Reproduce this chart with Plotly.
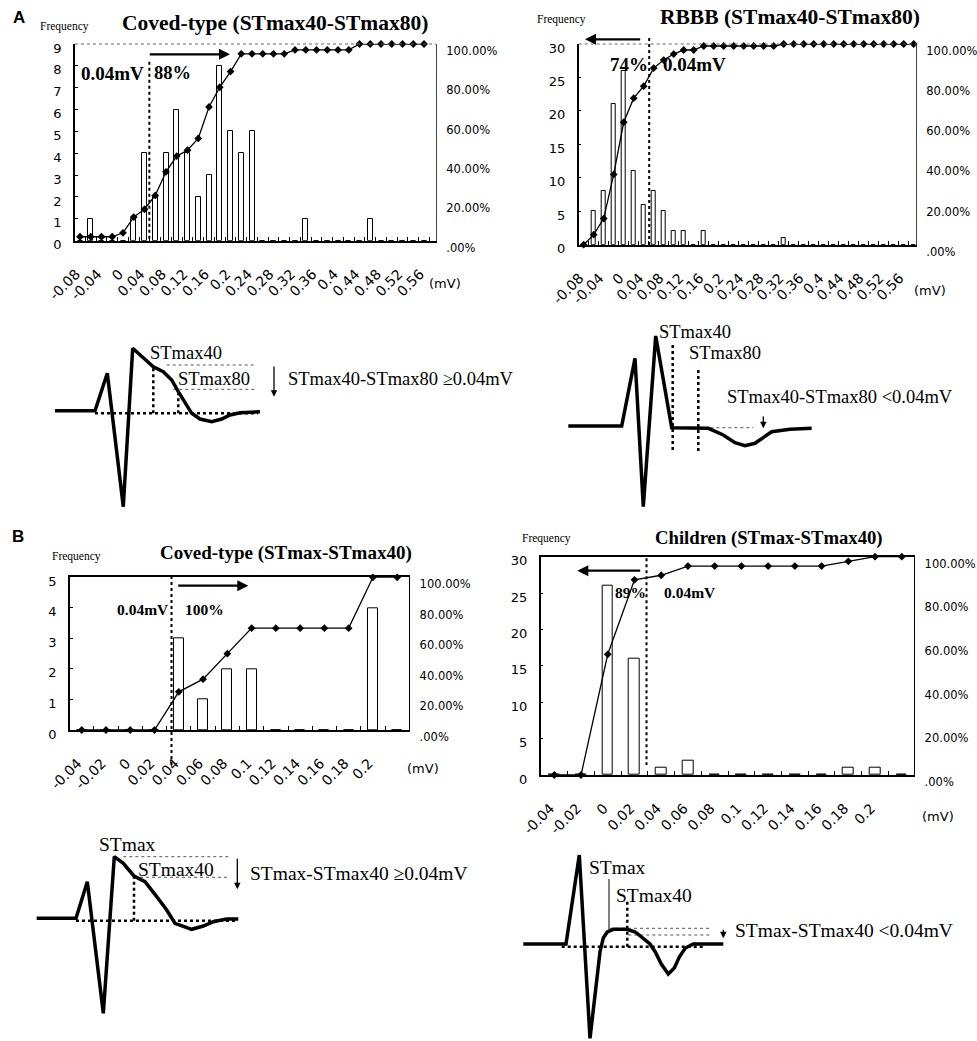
import plotly.graph_objects as go

W, H = 977, 1041
SERIF = "Liberation Serif, Times New Roman, serif"
SANS = "DejaVu Sans, Liberation Sans, sans-serif"

# ---------------- data ----------------
bins_a1 = [-0.08, -0.06, -0.04, -0.02, 0.0, 0.02, 0.04, 0.06, 0.08, 0.10, 0.12, 0.14, 0.16, 0.18, 0.20, 0.22,
           0.24, 0.26, 0.28, 0.30, 0.32, 0.34, 0.36, 0.38, 0.40, 0.42, 0.44, 0.46, 0.48, 0.50, 0.52, 0.54, 0.56]
freq_a1 = [0, 1, 0, 0, 0, 1, 4, 2, 4, 6, 4, 2, 3, 8, 5, 4, 5, 0, 0, 0, 0, 1, 0, 0, 0, 0, 0, 1, 0, 0, 0, 0, 0]
cum_a1 = [2, 2, 2, 2, 4, 12, 16, 23, 35, 43, 46, 52, 68, 78, 86, 95, 95, 95, 95, 95, 97, 97, 97, 97, 97, 97,
          100, 100, 100, 100, 100, 100, 100]

bins_a2 = [-0.08, -0.06, -0.04, -0.02, 0.0, 0.02, 0.04, 0.06, 0.08, 0.10, 0.12, 0.14, 0.16, 0.18, 0.20, 0.22,
           0.24, 0.26, 0.28, 0.30, 0.32, 0.34, 0.36, 0.38, 0.40, 0.42, 0.44, 0.46, 0.48, 0.50, 0.52, 0.54, 0.56, 0.58]
freq_a2 = [0, 5, 8, 21, 26, 11, 6, 8, 5, 2, 2, 0, 2, 0, 0, 0, 0, 0, 0, 0, 1, 0, 0, 0, 0, 0, 0, 0, 0, 0, 0, 0, 0, 0]
cum_a2 = [0, 5, 13, 35, 61, 73, 79, 88, 92, 95, 97, 97, 99, 99, 99, 99, 99, 99, 99, 99,
          100, 100, 100, 100, 100, 100, 100, 100, 100, 100, 100, 100, 100, 100]

bins_b1 = [-0.04, -0.02, 0.0, 0.02, 0.04, 0.06, 0.08, 0.10, 0.12, 0.14, 0.16, 0.18, 0.20, 0.22]
freq_b1 = [0, 0, 0, 0, 3, 1, 2, 2, 0, 0, 0, 0, 4, 0]
cum_b1 = [0, 0, 0, 0, 25, 33.3, 50, 66.7, 66.7, 66.7, 66.7, 66.7, 100, 100]

bins_b2 = [-0.04, -0.02, 0.0, 0.02, 0.04, 0.06, 0.08, 0.10, 0.12, 0.14, 0.16, 0.18, 0.20, 0.22]
freq_b2 = [0, 0, 26, 16, 1, 2, 0, 0, 0, 0, 0, 1, 1, 0]
cum_b2 = [0, 0, 55.3, 89.4, 91.5, 95.7, 95.7, 95.7, 95.7, 95.7, 95.7, 97.9, 100, 100]

xticks_a = [-0.08, -0.04, 0.0, 0.04, 0.08, 0.12, 0.16, 0.20, 0.24, 0.28, 0.32, 0.36, 0.40, 0.44, 0.48, 0.52, 0.56]
xtext_a = ["-0.08", "-0.04", "0", "0.04", "0.08", "0.12", "0.16", "0.2", "0.24", "0.28", "0.32", "0.36",
           "0.4", "0.44", "0.48", "0.52", "0.56"]
xticks_b = [-0.04, -0.02, 0.0, 0.02, 0.04, 0.06, 0.08, 0.10, 0.12, 0.14, 0.16, 0.18, 0.20]
xtext_b = ["-0.04", "-0.02", "0", "0.02", "0.04", "0.06", "0.08", "0.1", "0.12", "0.14", "0.16", "0.18", "0.2"]
pct_ticks = [0, 20, 40, 60, 80, 100]
pct_text = [".00%", "20.00%", "40.00%", "60.00%", "80.00%", "100.00%"]

titles = ["Coved-type (STmax40-STmax80)", "RBBB (STmax40-STmax80)",
          "Coved-type (STmax-STmax40)", "Children (STmax-STmax40)"]
threshold_x = [0.049, 0.051, 0.034, 0.029]

# ECG schematic waveforms (local time units, amplitude relative to baseline)
ecg1_t = [0, 40, 52.3, 68.3, 77.7, 88.3, 98.3, 108.3, 116.7, 123.3, 130, 136.7, 145, 156.7, 166.7, 175, 185, 205]
ecg1_v = [0, 0, 37.4, -96, 62.4, 53, 44, 39, 30.7, 19, 7.4, -2.6, -8.3, -11, -8.3, -4.3, -2, -1]
ecg2_t = [0, 53.4, 66.7, 75, 87.4, 103.4, 140, 155, 166.7, 176.7, 186.7, 195, 203.4, 221.7, 243.4]
ecg2_v = [1, 1, 68.7, -79.7, 91, -0.7, -1.3, -8, -15.7, -18.7, -16.3, -10.3, -4.7, -2.3, -1.3]
ecg3_t = [0, 39.3, 50.6, 66.6, 77.6, 86.6, 97.3, 108.3, 120, 130, 138.3, 155, 166.6, 176.6, 190, 201.6]
ecg3_v = [0, 0, 36.6, -95, 61.6, 55, 42.3, 36.6, 21.6, 8.3, -5, -11, -7.7, -3.4, -0.7, -0.7]
ecg4_t = [0, 42.7, 56, 66.7, 73, 76.7, 80, 84, 90, 103.4, 112, 120, 126.7, 132, 138, 145, 151, 156, 162, 170, 200]
ecg4_v = [0, 0, 89, -94.3, -40, -7.7, 6, 12, 14.7, 14.7, 12, 6, 0, -8, -20, -30, -24, -13, -4, 0, 0]

# ---------------- figure ----------------
fig = go.Figure()
layout = dict(template="none", width=W, height=H, margin=dict(l=0, r=0, t=0, b=0, pad=0, autoexpand=False),
              paper_bgcolor="white", plot_bgcolor="rgba(0,0,0,0)", showlegend=False, bargap=0)
annotations = []
shapes = []


def px(x):
    return x / W


def py(y):
    return 1 - y / H


def text_ann(text, x, y, size, family=SERIF, bold=False, xanchor="left", xref="paper", yref="paper"):
    if bold:
        text = "<b>" + text + "</b>"
    if xref == "paper":
        x, y = px(x), py(y)
    annotations.append(dict(text=text, x=x, y=y, xref=xref, yref=yref, xanchor=xanchor, yanchor="middle",
                            showarrow=False, font=dict(family=family, size=size, color="black")))


panels = [
    dict(bins=bins_a1, freq=freq_a1, cum=cum_a1, box=(75, 44, 436, 240.7), xr=[-0.0893, 0.5823],
         ymax=9, ydt=1, xt=xticks_a, xtx=xtext_a, bw=0.0093, frame="A", thr_y=(61.7, 241.7)),
    dict(bins=bins_a2, freq=freq_a2, cum=cum_a2, box=(578.7, 44, 916, 244.7), xr=[-0.09, 0.5846],
         ymax=30, ydt=5, xt=xticks_a, xtx=xtext_a, bw=0.009, frame="A", thr_y=(38, 246.3)),
    dict(bins=bins_b1, freq=freq_b1, cum=cum_b1, box=(70, 577.3, 409.3, 730), xr=[-0.04964, 0.22996],
         ymax=5, ydt=1, xt=xticks_b, xtx=xtext_b, bw=0.0082, frame="B", thr_y=(576, 768)),
    dict(bins=bins_b2, freq=freq_b2, cum=cum_b2, box=(540.7, 556.7, 914.3, 775), xr=[-0.05018, 0.22936],
         ymax=30, ydt=5, xt=xticks_b, xtx=xtext_b, bw=0.008, frame="B", thr_y=(558.3, 765)),
]

for i, p in enumerate(panels):
    n = i + 1
    xid = "x" if n == 1 else f"x{n}"
    ya_n, yb_n = 2 * n - 1, 2 * n
    yid = "y" if ya_n == 1 else f"y{ya_n}"
    yid2 = f"y{yb_n}"
    xkey = "xaxis" if n == 1 else f"xaxis{n}"
    ykey = "yaxis" if ya_n == 1 else f"yaxis{ya_n}"
    ykey2 = f"yaxis{yb_n}"
    x0, y0, x1, y1 = p["box"]
    fig.add_trace(go.Bar(x=p["bins"], y=p["freq"], xaxis=xid, yaxis=yid, width=p["bw"],
                         marker=dict(color="white", line=dict(color="black", width=1))))
    fig.add_trace(go.Scatter(x=p["bins"], y=p["cum"], xaxis=xid, yaxis=yid2, mode="lines+markers",
                             cliponaxis=False,
                             line=dict(color="black", width=1.3),
                             marker=dict(symbol="diamond", size=6, color="black")))
    layout[xkey] = dict(domain=[px(x0), px(x1)], range=p["xr"], anchor=yid, showline=True, linecolor="black",
                        linewidth=1.5, mirror=(p["frame"] == "B"), tickmode="array", tickvals=p["xt"],
                        ticktext=p["xtx"], tickangle=-45, ticks="", showgrid=False, zeroline=False,
                        automargin=False,
                        tickfont=dict(family=SANS, size=14, color="black"), ticklabelstandoff=18,
                        ticklabelshift=-4,
                        minor=dict(tickmode="linear", tick0=p["bins"][0] - 0.01, dtick=0.02, ticks="inside",
                                   ticklen=4, tickcolor="black", showgrid=False))
    layout[ykey] = dict(domain=[py(y1), py(y0)], range=[0, p["ymax"]], anchor=xid, showline=True,
                        linecolor="black", linewidth=1.5, tickmode="linear", tick0=0, dtick=p["ydt"],
                        ticks="inside", ticklen=3, tickcolor="black", showgrid=False, zeroline=False,
                        automargin=False,
                        tickfont=dict(family=SANS, size=13, color="black"), ticklabelstandoff=9,
                        ticklabelshift=4)
    layout[ykey2] = dict(overlaying=yid, side="right", anchor=xid, range=[0, 100], tickmode="array",
                         tickvals=pct_ticks, ticktext=pct_text, showline=True,
                         linecolor="#444" if p["frame"] == "A" else "black", linewidth=1,
                         showgrid=False, zeroline=False, ticks="", automargin=False,
                         tickfont=dict(family=SANS, size=11.5, color="black"), ticklabelstandoff=7,
                         ticklabelshift=7)
    if p["frame"] == "A":
        shapes.append(dict(type="line", xref="paper", yref="paper", x0=px(x0), x1=px(x1), y0=py(y0), y1=py(y0),
                           line=dict(color="#666", width=1, dash="dot")))
    ty0, ty1 = p["thr_y"]
    shapes.append(dict(type="line", xref=xid, yref="paper", x0=threshold_x[i], x1=threshold_x[i],
                       y0=py(ty0), y1=py(ty1), line=dict(color="black", width=2, dash="dot")))

# titles, labels
text_ann(titles[0], 120, 23.3, 21.5, bold=True)
text_ann(titles[1], 658.3, 16.7, 21.5, bold=True)
text_ann(titles[2], 158.3, 552.7, 19, bold=True)
text_ann(titles[3], 653.3, 538.3, 18.7, bold=True)
for (fx, fy) in [(38.3, 26.7), (535, 20), (50, 556), (520, 538.3)]:
    text_ann("Frequency", fx, fy, 11.5)
for (mx, my) in [(426.7, 283.3), (911.7, 290), (405, 768.3), (920, 816.7)]:
    text_ann("(mV)", mx, my, 13, family=SANS)
text_ann("A", 11, 17, 17, family="Liberation Sans, Arial, sans-serif", bold=True)
text_ann("B", 10, 537, 17, family="Liberation Sans, Arial, sans-serif", bold=True)

text_ann("0.04mV", 79, 73.3, 19, bold=True)
text_ann("88%", 151.7, 73.3, 18.5, bold=True)
text_ann("74%", 608.3, 64.3, 19, bold=True)
text_ann("0.04mV", 660.7, 64.3, 19, bold=True)
text_ann("0.04mV", 115, 609.3, 15.5, bold=True)
text_ann("100%", 182.7, 609.3, 15.5, bold=True)
text_ann("89%", 613.3, 592.7, 15.5, bold=True)
text_ann("0.04mV", 661.7, 592.7, 15.5, bold=True)

# chart arrows (tail -> head)
for (tx, ty, hx, hy) in [(148.3, 54.3, 230, 54.3), (641.7, 39.3, 585, 39.3),
                         (176.7, 585.7, 248.3, 585.7), (641.7, 570.7, 577.3, 570.7)]:
    annotations.append(dict(x=px(hx), y=py(hy), xref="paper", yref="paper", ax=tx - hx, ay=ty - hy,
                            showarrow=True, arrowhead=2, arrowsize=1, arrowwidth=2.2, arrowcolor="black",
                            text=""))

# ---------------- ECG schematics ----------------
ecgs = [
    dict(t=ecg1_t, v=ecg1_v, box=(30, 320, 530, 525), origin=(55, 410.7),
         dotted=[([40, 203], [-2.6, -2.6]), ([98.3, 98.3], [-2.6, 44]), ([123.3, 123.3], [-2.6, 18])],
         thin=[([111.7, 200], [45.7, 45.7]), ([118.3, 200], [21.4, 21.4])],
         solid_thin=[],
         arrow=(219, 45.7, 219, 14),
         labels=[("STmax40", 93.3, 57.4), ("STmax80", 120.7, 31.4), ("STmax40-STmax80 \u22650.04mV", 231, 31.4)],
         fs=18.5),
    dict(t=ecg2_t, v=ecg2_v, box=(540, 320, 977, 525), origin=(568.3, 427),
         dotted=[([104.4, 104.4], [82, -24.7]), ([130, 130], [57, -24.7])],
         thin=[([130, 185], [-0.7, -0.7])],
         solid_thin=[],
         arrow=(195, 12, 195, -1.3),
         labels=[("STmax40", 88.4, 94.7), ("STmax80", 118.4, 73.7), ("STmax40-STmax80 <0.04mV", 156.7, 30.3)],
         fs=18.5),
    dict(t=ecg3_t, v=ecg3_v, box=(20, 825, 500, 1041), origin=(36.7, 918.3),
         dotted=[([39.3, 200], [-2.4, -2.4]), ([97.3, 97.3], [-2.4, 41.6])],
         thin=[([86.6, 193.3], [61.6, 61.6]), ([103.3, 193.3], [41, 41])],
         solid_thin=[],
         arrow=(200.6, 61, 200.6, 29),
         labels=[("STmax", 60, 74), ("STmax40", 99.3, 49.3), ("STmax-STmax40 \u22650.04mV", 211.6, 45)],
         fs=19.5),
    dict(t=ecg4_t, v=ecg4_v, box=(505, 835, 977, 1041), origin=(523.3, 944),
         dotted=[([38.4, 180], [-2.7, -2.7]), ([104, 104], [42.3, -2.7])],
         thin=[([86.7, 188.4], [15.7, 15.7]), ([105, 188.4], [9, 9])],
         solid_thin=[([85.7, 85.7], [65, 14.7])],
         arrow=(200, 15.7, 200, 5.7),
         labels=[("STmax", 63.4, 76.3), ("STmax40", 90.7, 49), ("STmax-STmax40 <0.04mV", 210, 14)],
         fs=19.5),
]

for k, e in enumerate(ecgs):
    xn = 5 + k
    yn = 9 + k
    xid, yid = f"x{xn}", f"y{yn}"
    bx0, by0, bx1, by1 = e["box"]
    ox, oy = e["origin"]
    layout[f"xaxis{xn}"] = dict(domain=[px(bx0), px(bx1)], range=[bx0 - ox, bx1 - ox], anchor=yid,
                                visible=False, automargin=False)
    layout[f"yaxis{yn}"] = dict(domain=[py(by1), py(by0)], range=[oy - by1, oy - by0], anchor=xid,
                                visible=False, automargin=False)
    for (lx, ly) in e["thin"]:
        fig.add_trace(go.Scatter(x=lx, y=ly, xaxis=xid, yaxis=yid, mode="lines",
                                 line=dict(color="#555", width=1, dash="dot")))
    for (lx, ly) in e["solid_thin"]:
        fig.add_trace(go.Scatter(x=lx, y=ly, xaxis=xid, yaxis=yid, mode="lines",
                                 line=dict(color="black", width=1)))
    for (lx, ly) in e["dotted"]:
        fig.add_trace(go.Scatter(x=lx, y=ly, xaxis=xid, yaxis=yid, mode="lines",
                                 line=dict(color="black", width=2.5, dash="dot")))
    fig.add_trace(go.Scatter(x=e["t"], y=e["v"], xaxis=xid, yaxis=yid, mode="lines",
                             line=dict(color="black", width=3.5), cliponaxis=False))
    tx, ty, hx, hy = e["arrow"]
    annotations.append(dict(x=hx, y=hy, ax=tx, ay=ty, xref=xid, yref=yid, axref=xid, ayref=yid,
                            showarrow=True, arrowhead=2, arrowsize=1, arrowwidth=1.3, arrowcolor="black",
                            text=""))
    for (s, lx, ly) in e["labels"]:
        text_ann(s, lx, ly, e["fs"], xref=xid, yref=yid)

layout["annotations"] = annotations
layout["shapes"] = shapes
fig.update_layout(**layout)
fig.write_html("out.html", config={"displayModeBar": False},
               post_script="document.body.style.margin='0';")
